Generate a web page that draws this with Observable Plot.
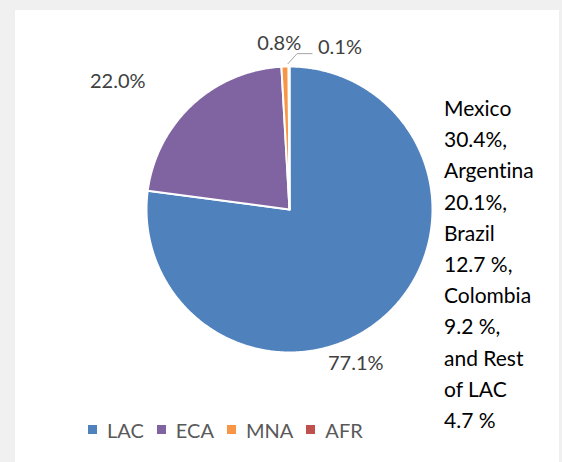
<!DOCTYPE html>
<html><head><meta charset="utf-8">
<script src="https://cdn.jsdelivr.net/npm/d3@7"></script>
<script src="https://cdn.jsdelivr.net/npm/@observablehq/plot@0.6"></script>
<style>
html,body{margin:0;padding:0;background:#f0f0f0;width:562px;height:462px;overflow:hidden;font-family:Lato,sans-serif;font-variant-ligatures:none;}
svg text{font-variant-ligatures:none;}
#panel{position:absolute;left:15px;top:10px;width:544px;height:452px;background:#fff;}
#chart{position:absolute;left:0;top:0;}
#note{position:absolute;left:444px;top:92px;font-size:21px;line-height:31.2px;color:#000;white-space:pre;font-variant-ligatures:none;}
#legend{position:absolute;left:88px;top:413px;}
.lg-swatches{font-family:Lato,sans-serif !important;font-size:20px !important;color:#595959;margin:0 !important;font-variant-ligatures:none;}
.lg-swatch{margin-right:13px !important;}
.lg-swatch > svg{margin-right:10px !important;}
</style></head>
<body>
<div id="panel"></div><div id="chart"></div><div id="note"></div><div id="legend"></div>
<script>
// ---- data ----
const regions = ["LAC", "ECA", "MNA", "AFR"];
const shares = [77.1, 22.0, 0.8, 0.1];
const shareLabels = ["77.1%", "22.0%", "0.8%", "0.1%"];
const regionColors = ["#4f81bd", "#8064a2", "#f79646", "#c0504d"];
const noteLines = ["Mexico", "30.4%,", "Argentina", "20.1%,", "Brazil", "12.7 %,", "Colombia", "9.2 %,", "and Rest", "of LAC", "4.7 %"];

// ---- layout ----
const W = 562, H = 462, cx = 289, cy = 209, R = 143;
const data = regions.map((r, i) => ({region: r, share: shares[i], label: shareLabels[i]}));
const arcs = d3.pie().sort(null).value(d => d.share)(data);

const pts = [];
for (const a of arcs) {
  const reg = a.data.region;
  const n = Math.max(2, Math.ceil((a.endAngle - a.startAngle) / (Math.PI / 360)));
  pts.push({region: reg, x: 0, y: 0});
  for (let i = 0; i <= n; i++) {
    const t = a.startAngle + (a.endAngle - a.startAngle) * i / n;
    pts.push({region: reg, x: Math.sin(t), y: Math.cos(t)});
  }
  pts.push({region: reg, x: 0, y: 0});
}

// label placement: mid-angle at radius 1.17, plus pixel nudges
const nudge = {LAC: [-44, 28], ECA: [-58, -5], MNA: [-5, 1], AFR: [51, 5]};
const labels = arcs.map(a => {
  const m = (a.startAngle + a.endAngle) / 2;
  const [ndx, ndy] = nudge[a.data.region];
  return {text: a.data.label, x: 1.17 * Math.sin(m) + ndx / R, y: 1.17 * Math.cos(m) - ndy / R};
});
// leader line for the smallest slice
const afr = arcs[3];
const am = (afr.startAngle + afr.endAngle) / 2;
const l0 = {x: 1.02 * Math.sin(am) - 1 / R, y: 1.02 * Math.cos(am)};
const leader = [l0, {x: l0.x + 9 / R, y: l0.y + 10 / R}, {x: l0.x + 24 / R, y: l0.y + 10 / R}];

const chart = Plot.plot({
  width: W, height: H,
  margin: 0,
  style: {background: "transparent", fontFamily: "Lato, sans-serif"},
  x: {domain: [-cx / R, (W - cx) / R], axis: null},
  y: {domain: [-(H - cy) / R, cy / R], axis: null},
  color: {domain: regions, range: regionColors},
  marks: [
    Plot.line(pts, {x: "x", y: "y", z: "region", fill: "region", stroke: "white", strokeWidth: 2, strokeLinejoin: "round"}),
    Plot.line(leader, {x: "x", y: "y", stroke: "#a6a6a6", strokeWidth: 1}),
    Plot.text(labels, {x: "x", y: "y", text: "text", fill: "#404040", fontSize: 20})
  ]
});
document.getElementById("chart").appendChild(chart);
document.getElementById("note").textContent = noteLines.join("\n");
const lg = chart.legend("color", {legend: "swatches", swatchSize: 9, className: "lg"});
document.getElementById("legend").appendChild(lg);
</script>
</body></html>
